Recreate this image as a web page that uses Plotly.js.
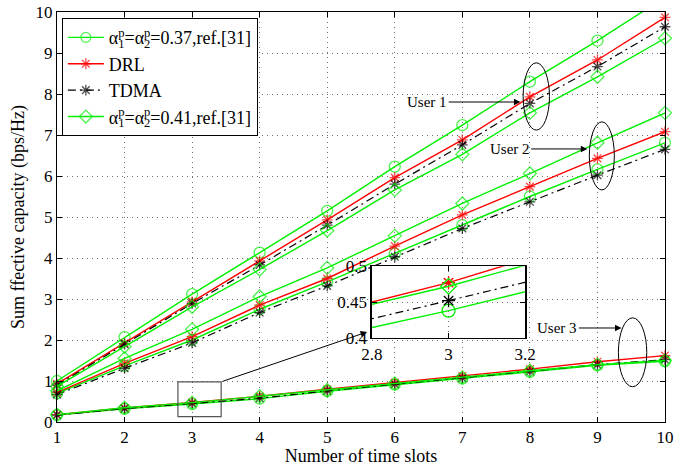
<!DOCTYPE html>
<html>
<head>
<meta charset="utf-8">
<script src="https://cdn.plot.ly/plotly-3.0.1.min.js"></script>
<style>
  html, body { margin: 0; padding: 0; background: #fff; }
  #chart { width: 687px; height: 466px; }
</style>
</head>
<body>
<div id="chart"></div>
<script>
// Number of time slots
const slots = [1, 2, 3, 4, 5, 6, 7, 8, 9, 10];

// User 1
const u1Ref37 = [1.00, 2.07, 3.12, 4.13, 5.15, 6.23, 7.24, 8.30, 9.30, 10.36];
const u1Drl   = [0.93, 1.92, 2.93, 3.93, 4.93, 5.96, 6.88, 7.93, 8.83, 9.87];
const u1Tdma  = [0.90, 1.90, 2.89, 3.83, 4.80, 5.80, 6.76, 7.77, 8.67, 9.64];
const u1Ref41 = [0.87, 1.84, 2.81, 3.72, 4.67, 5.66, 6.53, 7.54, 8.42, 9.36];

// User 2
const u2Ref37 = [0.70, 1.37, 2.00, 2.75, 3.42, 4.11, 4.80, 5.50, 6.16, 6.81];
const u2Drl   = [0.72, 1.43, 2.08, 2.85, 3.50, 4.29, 5.05, 5.74, 6.43, 7.08];
const u2Tdma  = [0.67, 1.31, 1.93, 2.67, 3.32, 4.03, 4.72, 5.37, 6.02, 6.65];
const u2Ref41 = [0.76, 1.55, 2.26, 3.06, 3.76, 4.54, 5.33, 6.06, 6.81, 7.54];

// User 3
const u3Ref37 = [0.17, 0.320, 0.438, 0.57, 0.75, 0.91, 1.06, 1.22, 1.38, 1.48];
const u3Drl   = [0.18, 0.342, 0.477, 0.627, 0.80, 0.96, 1.12, 1.29, 1.47, 1.62];
const u3Tdma  = [0.17, 0.326, 0.452, 0.58, 0.76, 0.92, 1.07, 1.23, 1.40, 1.52];
const u3Ref41 = [0.18, 0.347, 0.472, 0.63, 0.78, 0.94, 1.09, 1.25, 1.40, 1.50];

// Legend labels (superscript p stacked over the subscript index)
const stack = (sup, sub) =>
  '<sup><span style="letter-spacing:-6.4px">' + sup + '</span></sup><sub>' + sub + '</sub>';
const labelRef37 = 'α' + stack('p', '1') + '=α' + stack('p', '2') + '=0.37,ref.[31]';
const labelDrl = 'DRL';
const labelTdma = 'TDMA';
const labelRef41 = 'α' + stack('p', '1') + '=α' + stack('p', '2') + '=0.41,ref.[31]';

const yMax = 10;
const FONT = 'Liberation Serif, Times New Roman, serif';
const GREEN = '#00f000';
const RED = '#ff0000';
const BLACK = '#000000';

const styles = {
  ref37: { color: GREEN, dash: 'solid', symbol: 'circle-open', size: 11, lw: 1.4, name: labelRef37 },
  drl:   { color: RED, dash: 'solid', symbol: 'asterisk-open', size: 9, lw: 1.4, name: labelDrl },
  tdma:  { color: BLACK, dash: '8px,4px,2px,4px', symbol: 'asterisk-open', size: 9, lw: 1.2, name: labelTdma },
  ref41: { color: GREEN, dash: 'solid', symbol: 'diamond-open', size: 10, lw: 1.4, name: labelRef41 }
};

const users = [
  { ref37: u1Ref37, drl: u1Drl, tdma: u1Tdma, ref41: u1Ref41 },
  { ref37: u2Ref37, drl: u2Drl, tdma: u2Tdma, ref41: u2Ref41 },
  { ref37: u3Ref37, drl: u3Drl, tdma: u3Tdma, ref41: u3Ref41 }
];

const traces = [];
const order = ['ref37', 'drl', 'tdma', 'ref41'];

users.forEach((u, ui) => {
  order.forEach((key, ki) => {
    const s = styles[key];
    const ys = u[key];
    traces.push({
      x: slots, y: ys, type: 'scatter', mode: 'lines+markers',
      name: s.name, legendgroup: key, showlegend: ui === 0, legendrank: ki + 1,
      cliponaxis: false,
      line: { color: s.color, width: s.lw, dash: s.dash },
      // points above the axis top are not drawn
      marker: { symbol: s.symbol, size: ys.map(v => v > yMax ? 0 : s.size), color: s.color,
                line: { color: s.color, width: 1.3 } },
      hoverinfo: 'x+y'
    });
  });
});

// Zoomed view around slot 3 for user 3
order.forEach((key) => {
  const s = styles[key];
  traces.push({
    x: slots, y: users[2][key], type: 'scatter', mode: 'lines+markers',
    xaxis: 'x2', yaxis: 'y2', showlegend: false, cliponaxis: true,
    line: { color: s.color, width: s.lw, dash: s.dash },
    marker: { symbol: s.symbol, size: s.size + 2, color: s.color, line: { color: s.color, width: 1.3 } },
    hoverinfo: 'x+y'
  });
});

const axisCommon = {
  showline: true, linecolor: '#000', linewidth: 1, mirror: 'allticks',
  ticks: 'inside', ticklen: 5, tickcolor: '#000', tickwidth: 1,
  showgrid: true, gridcolor: '#6e6e6e', griddash: '1px,4px', gridwidth: 1,
  zeroline: false, tickfont: { family: FONT, size: 17, color: '#000' }
};

const layout = {
  width: 687, height: 466,
  margin: { l: 57, r: 22, t: 12, b: 44 },
  paper_bgcolor: '#fff', plot_bgcolor: '#fff',
  font: { family: FONT, size: 18, color: '#000' },
  xaxis: Object.assign({}, axisCommon, {
    range: [1, 10], tickvals: slots, domain: [0, 1], anchor: 'y',
    title: { text: 'Number of time slots', font: { family: FONT, size: 18 }, standoff: 0 }
  }),
  yaxis: Object.assign({}, axisCommon, {
    range: [0, 10], dtick: 1, domain: [0, 1], anchor: 'x',
    title: { text: 'Sum ffective capacity (bps/Hz)', font: { family: FONT, size: 18 }, standoff: 6 }
  }),
  xaxis2: Object.assign({}, axisCommon, {
    range: [2.8, 3.2], tickvals: [2.8, 3, 3.2], ticktext: ['2.8', '3', '3.2'],
    domain: [0.518, 0.770], anchor: 'y2', linewidth: 1.5
  }),
  yaxis2: Object.assign({}, axisCommon, {
    range: [0.4, 0.5], tickvals: [0.4, 0.45, 0.5], ticktext: ['0.4', '0.45', '0.5'],
    domain: [0.205, 0.380], anchor: 'x2', linewidth: 1.5
  }),
  showlegend: true,
  legend: {
    x: 0.008, y: 0.985, xanchor: 'left', yanchor: 'top',
    bgcolor: '#fff', bordercolor: '#000', borderwidth: 1,
    font: { family: FONT, size: 18, color: '#000' },
    tracegroupgap: 3, itemwidth: 36, traceorder: 'normal'
  },
  shapes: [
    // box around the zoomed region
    { type: 'rect', xref: 'x', yref: 'y', x0: 2.79, x1: 3.43, y0: 0.13, y1: 0.98,
      line: { color: '#555', width: 1.2 } },
    // user group ellipses
    { type: 'circle', xref: 'x', yref: 'y', x0: 7.90, x1: 8.29, y0: 7.12, y1: 8.76,
      line: { color: '#000', width: 1 } },
    { type: 'circle', xref: 'x', yref: 'y', x0: 8.88, x1: 9.25, y0: 5.66, y1: 7.32,
      line: { color: '#000', width: 1 } },
    { type: 'circle', xref: 'x', yref: 'y', x0: 9.31, x1: 9.73, y0: 0.86, y1: 2.54,
      line: { color: '#000', width: 1 } }
  ],
  annotations: [
    { xref: 'x', yref: 'y', axref: 'x', ayref: 'y', x: 5.59, y: 2.195, ax: 3.43, ay: 0.98,
      text: '', showarrow: true, arrowhead: 2, arrowsize: 1.3, arrowwidth: 1, arrowcolor: '#000' },
    { xref: 'x', yref: 'y', axref: 'x', ayref: 'y', x: 7.86, y: 7.805, ax: 6.48, ay: 7.805,
      text: 'User 1', font: { family: FONT, size: 15, color: '#000' },
      showarrow: true, arrowhead: 2, arrowsize: 1.3, arrowwidth: 1, arrowcolor: '#000' },
    { xref: 'x', yref: 'y', axref: 'x', ayref: 'y', x: 8.85, y: 6.66, ax: 7.70, ay: 6.66,
      text: 'User 2', font: { family: FONT, size: 15, color: '#000' },
      showarrow: true, arrowhead: 2, arrowsize: 1.3, arrowwidth: 1, arrowcolor: '#000' },
    { xref: 'x', yref: 'y', axref: 'x', ayref: 'y', x: 9.356, y: 2.293, ax: 8.407, ay: 2.293,
      text: 'User 3', font: { family: FONT, size: 15, color: '#000' },
      showarrow: true, arrowhead: 2, arrowsize: 1.3, arrowwidth: 1, arrowcolor: '#000' }
  ]
};

Plotly.newPlot('chart', traces, layout, { displayModeBar: false, staticPlot: true });
</script>
</body>
</html>
